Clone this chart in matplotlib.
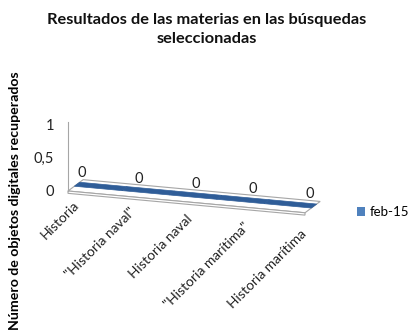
import numpy as np
import matplotlib
matplotlib.use('Agg')
import matplotlib.pyplot as plt
import matplotlib.transforms as mtransforms
from matplotlib.patches import Patch

# datos
categorias = ['Historia', '"Historia naval"', 'Historia naval',
              '"Historia marítima"', 'Historia marítima']
valores = [0, 0, 0, 0, 0]
serie = 'feb-15'
yticks = [0, 0.5, 1]
ytick_labels = ['0', '0,5', '1']

plt.rcParams['font.family'] = ['Lato', 'DejaVu Sans']

fig = plt.figure(figsize=(4.13, 3.35), dpi=100)
ax = fig.add_axes([68 / 413, (335 - 191) / 335, 237 / 413, 69 / 335])
ax.set_xlim(-0.5, len(categorias) - 0.5)
ax.set_ylim(0, 1.03)

# perspectiva aproximada: cizalla + profundidad
s = 0.065
dx, dy = 0.32, 0.19
shear = mtransforms.Affine2D(np.array([[1, 0, 0], [-s, 1, -s * 0.5], [0, 0, 1]]))
tr = shear + ax.transData

x0, x1 = -0.5, len(categorias) - 0.5
# suelo
suelo = [(x0, 0), (x1, 0), (x1 + dx, dy), (x0 + dx, dy)]
ax.fill(*zip(*suelo), facecolor='white', edgecolor='#A6A6A6', lw=0.8,
        transform=tr, zorder=1, clip_on=False)
ax.fill([x0, x1, x1, x0], [0, 0, -0.035, -0.035], facecolor='white',
        edgecolor='#A6A6A6', lw=0.8, transform=tr, zorder=1, clip_on=False)

# barras (altura 0 -> solo cara superior)
f0, f1 = 0.42, 0.77
color = '#2F5D98'
for i, v in enumerate(valores):
    xs = [i - 0.5 + f0 * dx, i + 0.5 + f0 * dx, i + 0.5 + f1 * dx, i - 0.5 + f1 * dx]
    ys = [v + f0 * dy, v + f0 * dy, v + f1 * dy, v + f1 * dy]
    ax.fill(xs, ys, facecolor=color, edgecolor=color, lw=0.5,
            transform=tr, zorder=2, clip_on=False)

# etiquetas de datos y de categorías
for i, (c, v) in enumerate(zip(categorias, valores)):
    lx = i + (i - 2) * 0.2
    off = mtransforms.offset_copy(tr, fig=fig, x=0, y=4.5, units='points')
    ax.text(lx + 0.2, v + dy, str(v), transform=off, ha='center', va='center',
            fontsize=10.5, color='#222222', zorder=3, clip_on=False)
    off2 = mtransforms.offset_copy(tr, fig=fig, x=0, y=-5 - 1.5 * i, units='points')
    ax.text(lx, 0, c, transform=off2, rotation=45, rotation_mode='anchor',
            ha='right', va='top', fontsize=10, color='#222222', clip_on=False)

# ejes
for sp in ['top', 'right', 'bottom']:
    ax.spines[sp].set_visible(False)
ax.spines['left'].set_color('#A6A6A6')
ax.spines['left'].set_bounds(0, 1.03)
ax.set_xticks([])
ax.set_yticks(yticks)
ax.set_yticklabels(ytick_labels, fontsize=10.5, color='#222222')
ax.tick_params(axis='y', length=0, pad=10)
ax.patch.set_visible(False)

fig.text(0.5, 0.912, 'Resultados de las materias en las búsquedas\nseleccionadas',
         ha='center', va='center', fontsize=11.8, fontweight='bold', linespacing=1.45,
         color='#111111')
fig.text(0.036, 0.40, 'Número de objetos digitales recuperados', rotation=90,
         ha='center', va='center', fontsize=10.2, fontweight='bold')

fig.legend(handles=[Patch(facecolor='#4F81BD', label=serie)], loc='center left',
           bbox_to_anchor=(345 / 413, 1 - 212 / 335),
           frameon=False, fontsize=9.5, handlelength=0.6, handleheight=0.6,
           handletextpad=0.4)

fig.savefig('out.png', dpi=100)
